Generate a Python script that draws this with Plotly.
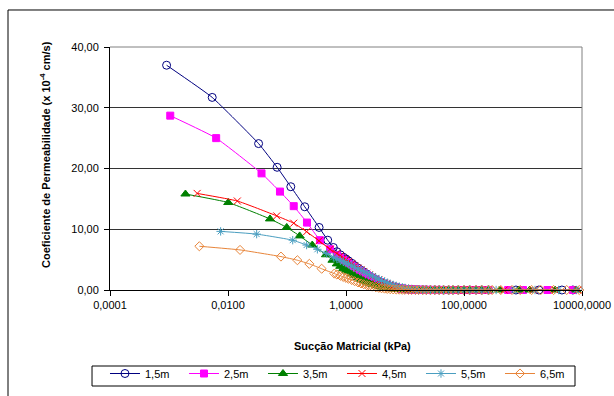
import plotly.graph_objects as go

# Matric suction (kPa) and hydraulic conductivity (x 10^-4 cm/s) per depth

# shared suction steps for the steep, dense part of every curve
dense_suction = [0.7, 0.8, 0.9, 1.0, 1.1, 1.25, 1.4, 1.6, 1.8, 2.0, 2.25, 2.5, 2.8, 3.2,
                 3.6, 4.0, 4.5, 5.0, 5.6, 6.3, 7.1, 8.0, 9.0, 10.0, 11.5, 13.0, 15.0,
                 17.0, 20.0, 23.0, 27.0, 32.0, 38.0, 45.0, 55.0, 65.0, 80.0, 100.0,
                 125.0, 160.0, 200.0, 260.0]

# 1,5 m
s_15_head = [0.00091, 0.0054, 0.033, 0.068, 0.116, 0.20, 0.35, 0.49, 0.61]
k_15_head = [37.0, 31.7, 24.1, 20.2, 17.0, 13.7, 10.3, 8.2, 7.0]
k_15_dense = [6.3, 5.8, 5.4, 5.1, 4.8, 4.4, 4.0, 3.6, 3.25, 2.95, 2.6, 2.3, 2.0, 1.7,
              1.45, 1.2, 1.0, 0.82, 0.66, 0.52, 0.4, 0.3, 0.22, 0.16, 0.11, 0.08, 0.05,
              0.04, 0.03, 0.02, 0.01, 0.01, 0.01, 0.0, 0.0, 0.0, 0.0, 0.0,
              0.0, 0.0, 0.0, 0.0]
s_15_tail = [760, 1860, 4570, 7000]
k_15_tail = [0.0, 0.0, 0.0, 0.0]

# 2,5 m
s_25_head = [0.00105, 0.0063, 0.037, 0.076, 0.13, 0.218, 0.362, 0.537]
k_25_head = [28.7, 25.0, 19.2, 16.2, 13.8, 11.1, 8.2, 6.7]
k_25_dense = [5.7, 5.3, 4.95, 4.65, 4.35, 4.0, 3.7, 3.3, 3.0, 2.75, 2.45, 2.2, 1.9, 1.62,
              1.38, 1.18, 0.98, 0.8, 0.65, 0.5, 0.39, 0.3, 0.22, 0.16, 0.11, 0.08, 0.05,
              0.04, 0.03, 0.02, 0.01, 0.01, 0.01, 0.0, 0.0, 0.0, 0.0, 0.0,
              0.0, 0.0, 0.0, 0.0]
s_25_tail = [560, 1000, 2600, 7000]
k_25_tail = [0.0, 0.0, 0.0, 0.0]

# 3,5 m
s_35_head = [0.0019, 0.0101, 0.0515, 0.099, 0.164, 0.268, 0.458, 0.59]
k_35_head = [15.8, 14.4, 11.7, 10.3, 8.9, 7.4, 5.8, 4.9]
k_35_dense = [4.3, 3.9, 3.55, 3.25, 3.0, 2.65, 2.35, 2.0, 1.75, 1.5, 1.28, 1.1, 0.92, 0.74,
              0.6, 0.49, 0.38, 0.3, 0.23, 0.17, 0.12, 0.09, 0.06, 0.045, 0.03, 0.02, 0.015,
              0.01, 0.01, 0.0, 0.0, 0.0, 0.0, 0.0, 0.0, 0.0, 0.0, 0.0,
              0.0, 0.0, 0.0, 0.0]
s_35_tail = [400, 850, 1300, 3500, 8000]
k_35_tail = [0.0, 0.0, 0.0, 0.0, 0.0]

# 4,5 m
s_45_head = [0.0030, 0.0144, 0.067, 0.13, 0.215, 0.348, 0.537]
k_45_head = [15.9, 14.65, 12.2, 11.0, 9.6, 8.1, 6.7]
k_45_dense = [6.0, 5.6, 5.25, 4.95, 4.65, 4.3, 3.95, 3.6, 3.3, 3.05, 2.75, 2.5, 2.2, 1.9,
              1.65, 1.42, 1.2, 1.0, 0.82, 0.66, 0.52, 0.4, 0.3, 0.23, 0.16, 0.11, 0.08,
              0.06, 0.04, 0.03, 0.02, 0.01, 0.01, 0.01, 0.0, 0.0, 0.0, 0.0,
              0.0, 0.0, 0.0, 0.0]
s_45_tail = [480, 1500, 3500, 8500]
k_45_tail = [0.0, 0.0, 0.0, 0.0]

# 5,5 m
s_55_head = [0.0075, 0.0306, 0.125, 0.215, 0.327, 0.472, 0.61]
k_55_head = [9.65, 9.2, 8.2, 7.4, 6.7, 6.0, 5.4]
k_55_dense = [5.15, 4.9, 4.65, 4.45, 4.25, 3.98, 3.74, 3.46, 3.22, 3.0, 2.75, 2.52, 2.28, 2.0,
              1.77, 1.57, 1.36, 1.18, 1.0, 0.83, 0.68, 0.54, 0.43, 0.34, 0.25, 0.18, 0.12,
              0.09, 0.06, 0.04, 0.03, 0.02, 0.01, 0.01, 0.01, 0.0, 0.0, 0.0,
              0.0, 0.0, 0.0, 0.0]
s_55_tail = [350, 700, 1600, 4000, 8000]
k_55_tail = [0.0, 0.0, 0.0, 0.0, 0.0]

# 6,5 m
s_65_head = [0.00327, 0.016, 0.079, 0.15, 0.239, 0.387, 0.634]
k_65_head = [7.2, 6.6, 5.5, 4.9, 4.3, 3.5, 2.7]
k_65_dense = [2.55, 2.35, 2.15, 2.0, 1.85, 1.65, 1.45, 1.25, 1.08, 0.95, 0.8, 0.68, 0.56, 0.45,
              0.36, 0.29, 0.23, 0.18, 0.14, 0.1, 0.08, 0.06, 0.04, 0.03, 0.02, 0.015, 0.01,
              0.01, 0.0, 0.0, 0.0, 0.0, 0.0, 0.0, 0.0, 0.0, 0.0, 0.0,
              0.0, 0.0, 0.0, 0.0]
s_65_tail = [300, 420, 650, 900, 1400, 2000, 3300, 5500, 9000]
k_65_tail = [0.0, 0.0, 0.0, 0.0, 0.0, 0.0, 0.0, 0.0, 0.0]

depth_labels = ["1,5m", "2,5m", "3,5m", "4,5m", "5,5m", "6,5m"]
x_tick_values = [0.0001, 0.01, 1, 100, 10000]
y_tick_values = [0, 10, 20, 30, 40]

series = [
    (s_15_head, k_15_head, k_15_dense, s_15_tail, k_15_tail),
    (s_25_head, k_25_head, k_25_dense, s_25_tail, k_25_tail),
    (s_35_head, k_35_head, k_35_dense, s_35_tail, k_35_tail),
    (s_45_head, k_45_head, k_45_dense, s_45_tail, k_45_tail),
    (s_55_head, k_55_head, k_55_dense, s_55_tail, k_55_tail),
    (s_65_head, k_65_head, k_65_dense, s_65_tail, k_65_tail),
]

styles = [
    dict(color="#000080", symbol="circle-open", size=8),
    dict(color="#FF00FF", symbol="square", size=7),
    dict(color="#008000", symbol="triangle-up", size=8),
    dict(color="#FF0000", symbol="x-thin-open", size=7),
    dict(color="#4A9EC0", symbol="asterisk-open", size=7),
    dict(color="#E8853A", symbol="diamond-open", size=7),
]

fig = go.Figure()
for label, (s_head, k_head, k_dense, s_tail, k_tail), st in zip(depth_labels, series, styles):
    fig.add_trace(go.Scatter(
        x=s_head + dense_suction + s_tail,
        y=k_head + k_dense + k_tail,
        mode="lines+markers",
        name=label,
        line=dict(color=st["color"], width=1, shape="spline", smoothing=0.4),
        marker=dict(symbol=st["symbol"], size=st["size"], color=st["color"],
                    line=dict(color=st["color"], width=1)),
        cliponaxis=False,
    ))

font_family = "Liberation Sans, Arial, sans-serif"

fig.update_layout(
    width=614, height=396,
    margin=dict(l=110, r=32, t=47, b=106, autoexpand=False),
    paper_bgcolor="white", plot_bgcolor="white",
    separators=",.",
    font=dict(family=font_family, size=11, color="black"),
    showlegend=True,
    legend=dict(
        orientation="h", x=-0.0106, xanchor="left", y=-0.284, yanchor="top",
        borderwidth=0, bgcolor="rgba(0,0,0,0)",
        font=dict(family=font_family, size=11, color="black"),
        entrywidth=34, entrywidthmode="pixels",
        itemwidth=30, tracegroupgap=0,
    ),
    xaxis=dict(
        type="log", range=[-4, 4],
        tickvals=x_tick_values, tickformat=".4f",
        ticks="outside", ticklen=5, tickcolor="black",
        showline=True, linecolor="black", linewidth=1,
        showgrid=False, zeroline=False,
        tickfont=dict(family=font_family, size=11, color="black"),
    ),
    yaxis=dict(
        range=[0, 40], tickvals=y_tick_values, tickformat=".2f",
        ticks="outside", ticklen=5, tickcolor="black",
        showline=True, linecolor="black", linewidth=1,
        showgrid=True, gridcolor="#333333", gridwidth=1, zeroline=False,
        tickfont=dict(family=font_family, size=11, color="black"),
        ticklabelstandoff=3,
    ),
    annotations=[
        dict(text="<b>Sucção Matricial (kPa)</b>", xref="paper", yref="paper",
             x=0.513, y=-0.2305, xanchor="center", yanchor="middle", showarrow=False,
             font=dict(family=font_family, size=11, color="black")),
        dict(text="<b>Coeficiente de Permeabilidade (x 10<sup>-4</sup> cm/s)</b>",
             xref="paper", yref="paper", x=-0.1377, y=0.5556, textangle=-90,
             xanchor="center", yanchor="middle", showarrow=False,
             font=dict(family=font_family, size=11, color="black")),
    ],
    shapes=[
        # plot-area frame (top and right)
        dict(type="line", xref="paper", yref="paper", x0=0, x1=1, y0=1, y1=1,
             line=dict(color="#808080", width=1), layer="above"),
        dict(type="line", xref="paper", yref="paper", x0=1, x1=1, y0=0, y1=1,
             line=dict(color="#808080", width=1), layer="above"),
        # chart-area frame
        dict(type="line", xref="paper", yref="paper", x0=-0.2161, x1=1.2, y0=1.1523, y1=1.1523,
             line=dict(color="black", width=1)),
        dict(type="line", xref="paper", yref="paper", x0=-0.2161, x1=-0.2161, y0=-0.6, y1=1.1523,
             line=dict(color="black", width=1)),
        # legend box
        dict(type="rect", xref="paper", yref="paper", x0=-0.0381, x1=0.9852, y0=-0.3128, y1=-0.3951,
             line=dict(color="black", width=1), layer="below"),
    ],
)

fig.write_html("out.html")
